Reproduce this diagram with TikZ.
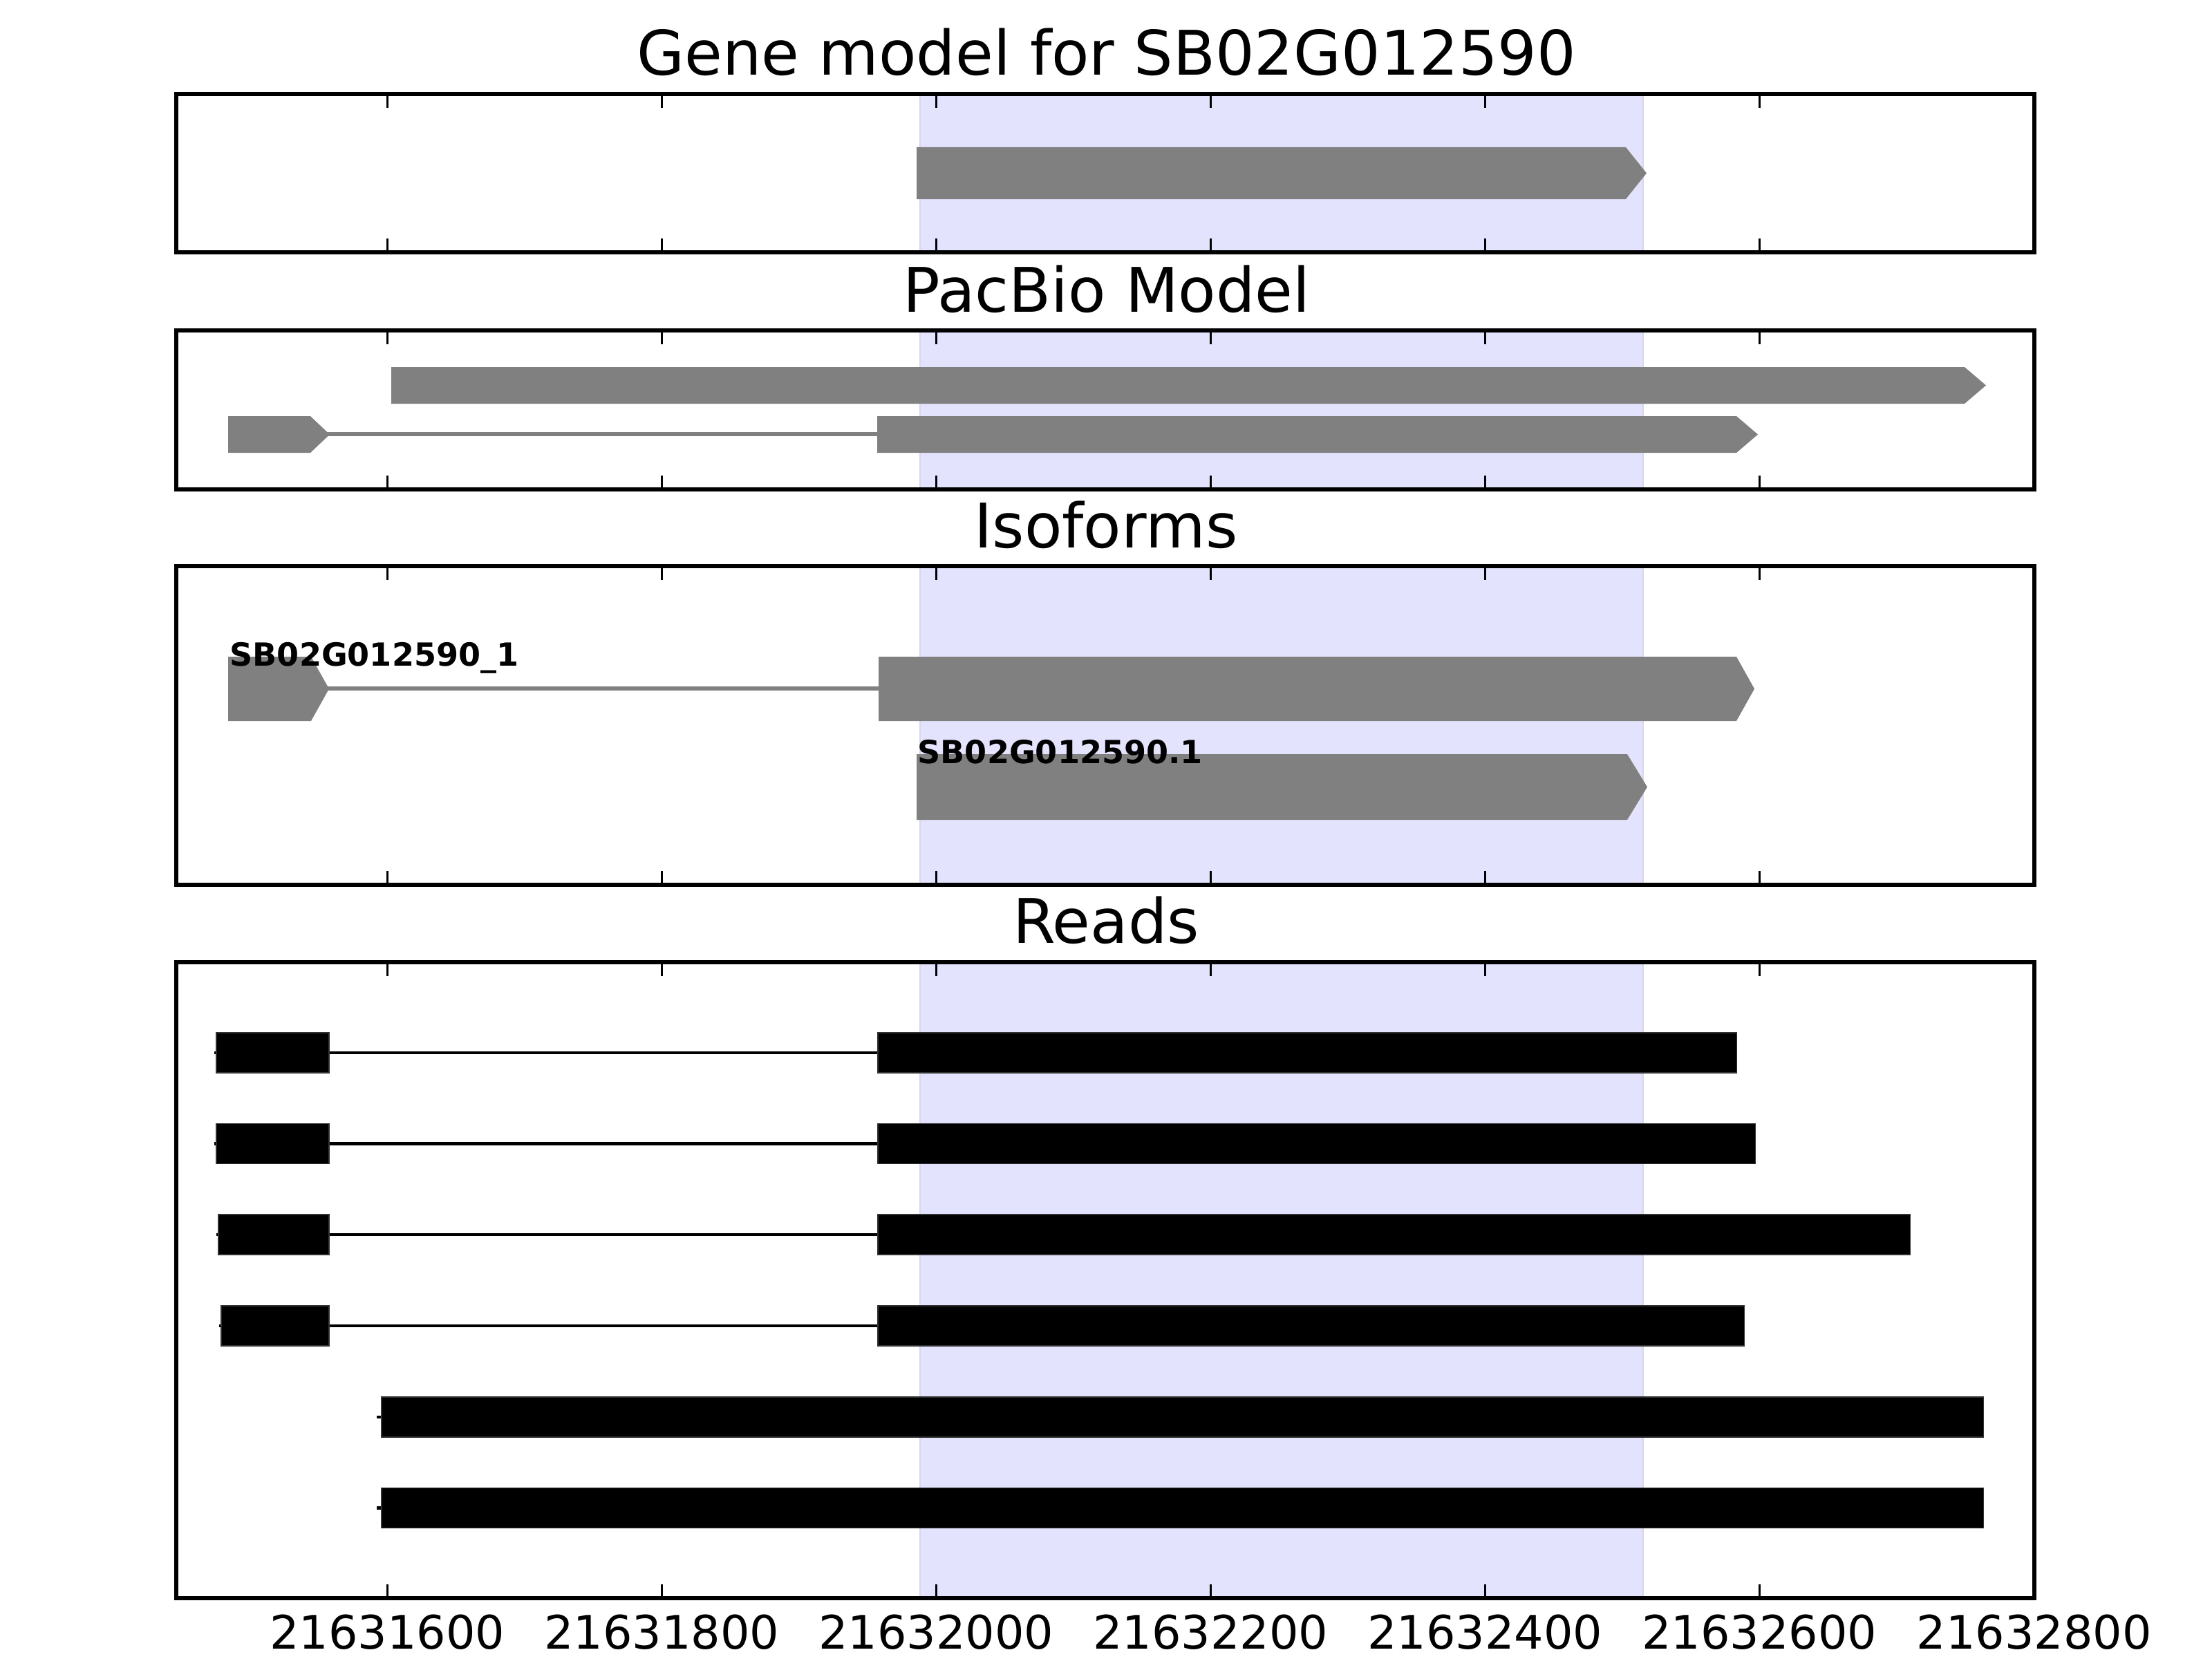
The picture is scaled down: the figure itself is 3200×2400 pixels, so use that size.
\documentclass[tikz,border=0pt]{standalone}
\usepackage{fontspec}
\setmainfont{DejaVu Sans}
\definecolor{featgray}{RGB}{128,128,128}
\definecolor{spanblue}{RGB}{227,227,253}
\definecolor{spanedge}{RGB}{214,214,240}
\definecolor{readedge}{RGB}{50,50,50}
\newcommand{\fwdexon}[5]{\fill[feat] (#1,#4) -- (#2,#4) -- (#3,{(#4+#5)/2}) -- (#2,#5) -- (#1,#5) -- cycle;}
\newcommand{\readbar}[3]{\draw[readbox] (#1,{#3-29}) rectangle (#2,{#3+29});}
\begin{document}
\begin{tikzpicture}[x=0.01cm,y=-0.01cm,
 panelframe/.style={draw=black, line width=1.55pt},
 tickmark/.style={draw=black, line width=0.75pt},
 bandfill/.style={fill=spanblue, draw=spanedge, line width=0.6pt},
 feat/.style={fill=featgray, draw=none},
 intron/.style={draw=featgray, line width=1.5pt},
 readbox/.style={fill=black, draw=readedge, line width=0.3pt},
 readline/.style={draw=black, line width=1.4pt},
 paneltitle/.style={font=\fontsize{25.3}{30}\selectfont, anchor=base, inner sep=0pt},
 ticklabel/.style={font=\fontsize{19}{23}\selectfont, anchor=base, inner sep=0pt},
 isolabel/.style={font=\bfseries\fontsize{13.1}{15.5}\selectfont, anchor=base west, inner sep=0pt}]
\useasboundingbox (0,0) rectangle (3200,2400);
\fill[white] (0,0) rectangle (3200,2400);

% highlighted span
\foreach \pt/\pb in {136/365,478/708,819/1280,1392/2312}
  {\filldraw[bandfill] (1331,\pt) rectangle (2377,\pb);}

% Gene model
\fwdexon{1326}{2352}{2382}{213}{288}

% PacBio model
\fwdexon{566}{2842}{2873}{531}{584}
\draw[intron] (449,628) -- (1269,628);
\fwdexon{330}{449}{477}{602}{655}
\fwdexon{1269}{2512}{2543}{602}{655}

% Isoforms
\draw[intron] (450,996) -- (1271,996);
\fwdexon{330}{450}{476}{950}{1043}
\fwdexon{1271}{2512}{2538}{950}{1043}
\fwdexon{1326}{2354}{2383}{1091}{1186}
\node[isolabel] (iso1) at (332,963) {SB02G012590\_1};
\node[isolabel] (iso2) at (1327,1104) {SB02G012590.1};

% Reads
\foreach \yc/\sa/\eb in {1523/313/2512,1654.7/313/2539,1786/316/2763,1918/320/2523}{
  \draw[readline] (\sa-3,\yc) -- (1272,\yc);
  \readbar{\sa}{476}{\yc}
  \readbar{1270}{\eb}{\yc}
}
\foreach \yc in {2050,2181.5}{
  \draw[readline] (545,\yc) -- (560,\yc);
  \readbar{552}{2869}{\yc}
}

% frames and ticks
\foreach \pt/\pb in {136/365,478/708,819/1280,1392/2312}{
  \foreach \tx in {560.5,957.5,1354.5,1751.5,2148.5,2545.5}{
    \draw[tickmark] (\tx,\pt) -- ++(0,20);
    \draw[tickmark] (\tx,\pb) -- ++(0,-20);
  }
  \draw[panelframe] (255,\pt) rectangle (2943,\pb);
}

% titles
\node[paneltitle] (t1) at (1601,109) {Gene model for SB02G012590};
\node[paneltitle] (t2) at (1601,451) {PacBio Model};
\node[paneltitle] (t3) at (1600,792) {Isoforms};
\node[paneltitle] (t4) at (1600,1364) {Reads};

% tick labels
\node[ticklabel] (x1) at (560.5,2385) {21631600};
\node[ticklabel] (x2) at (957.5,2385) {21631800};
\node[ticklabel] (x3) at (1354.5,2385) {21632000};
\node[ticklabel] (x4) at (1751.5,2385) {21632200};
\node[ticklabel] (x5) at (2148.5,2385) {21632400};
\node[ticklabel] (x6) at (2545.5,2385) {21632600};
\node[ticklabel] (x7) at (2943,2385) {21632800};
\end{tikzpicture}
\end{document}
